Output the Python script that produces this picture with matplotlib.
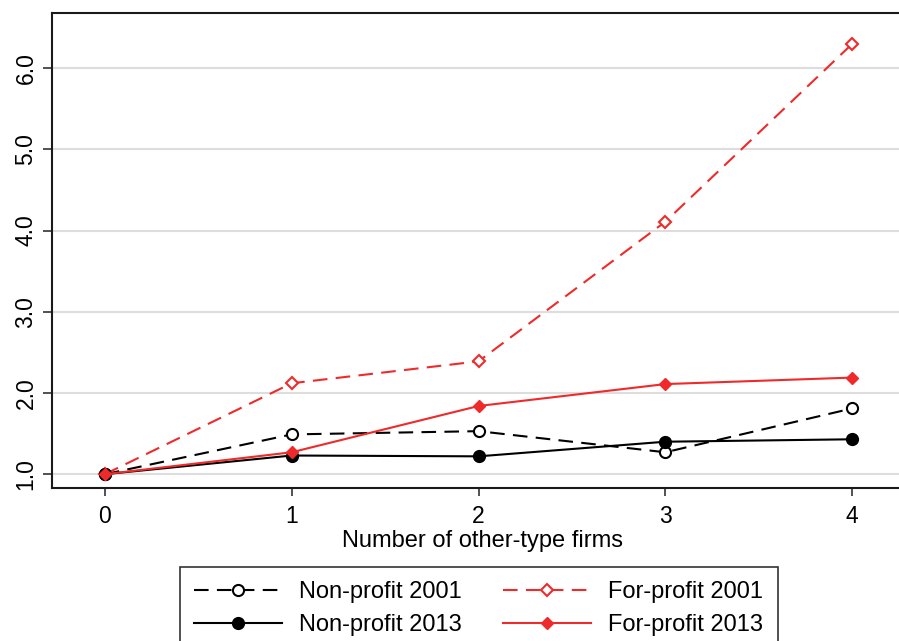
import matplotlib
matplotlib.use("Agg")
import matplotlib.pyplot as plt

plt.rcParams['font.family'] = ['Liberation Sans', 'DejaVu Sans']

firms = [0, 1, 2, 3, 4]
nonprofit_2001 = [1.00, 1.49, 1.53, 1.27, 1.81]
forprofit_2001 = [1.00, 2.12, 2.39, 4.11, 6.30]
nonprofit_2013 = [1.00, 1.23, 1.22, 1.40, 1.43]
forprofit_2013 = [1.00, 1.27, 1.84, 2.11, 2.19]
yticks = [1, 2, 3, 4, 5, 6]
ytick_labels = ["1.0", "2.0", "3.0", "4.0", "5.0", "6.0"]

red = "#ee2a2a"

fig = plt.figure(figsize=(8.99, 6.41), dpi=100)
# axes reach past the right edge of the figure
ax = fig.add_axes([52 / 899, 1 - 488 / 641, 860 / 899, 475 / 641])

dash = (0, (7, 4))
ax.plot(firms, nonprofit_2001, color="black", lw=1.5, linestyle=dash,
        marker="o", ms=8, mfc="white", mec="black", mew=1.5,
        label="Non-profit 2001", zorder=3)
ax.plot(firms, forprofit_2001, color=red, lw=1.5, linestyle=dash,
        marker="D", ms=6, mfc="white", mec=red, mew=1.5,
        label="For-profit 2001", zorder=3)
ax.plot(firms, nonprofit_2013, color="black", lw=1.5, linestyle="-",
        marker="o", ms=8.5, mfc="black", mec="black",
        label="Non-profit 2013", zorder=3)
ax.plot(firms, forprofit_2013, color=red, lw=1.5, linestyle="-",
        marker="D", ms=6.5, mfc=red, mec=red,
        label="For-profit 2013", zorder=4)

ax.set_xlim(-0.283, 4.32)
ax.set_ylim(0.83, 6.68)
ax.set_xticks(firms)
ax.set_yticks(yticks)
ax.set_yticklabels(ytick_labels, rotation=90, va="center")
ax.tick_params(axis="x", labelsize=16.5, length=6, width=1.2, color="#333333", pad=6)
ax.tick_params(axis="y", labelsize=16.5, length=6.5, width=1.2, color="#333333", pad=4)
ax.grid(axis="y", color="#dddddd", lw=1.5, zorder=0)
ax.set_axisbelow(True)
for s in ["left", "bottom", "top"]:
    ax.spines[s].set_linewidth(1.5)
    ax.spines[s].set_color("#1a1a1a")
ax.spines["right"].set_visible(False)

ax.set_xlabel("Number of other-type firms", fontsize=17, labelpad=2)

handles, labels = ax.get_legend_handles_labels()
order = [0, 2, 1, 3]
leg = fig.legend([handles[i] for i in order], [labels[i] for i in order],
                 ncol=2, loc="upper left", bbox_to_anchor=(180 / 899, 1 - 567 / 641),
                 borderaxespad=0,
                 fontsize=17, frameon=True, fancybox=False, edgecolor="black",
                 handlelength=3.7, markerscale=1.0, columnspacing=1.75,
                 handletextpad=0.75, borderpad=0.6, labelspacing=0.45)
leg.get_frame().set_linewidth(1.2)

fig.savefig("out.png", dpi=100)
